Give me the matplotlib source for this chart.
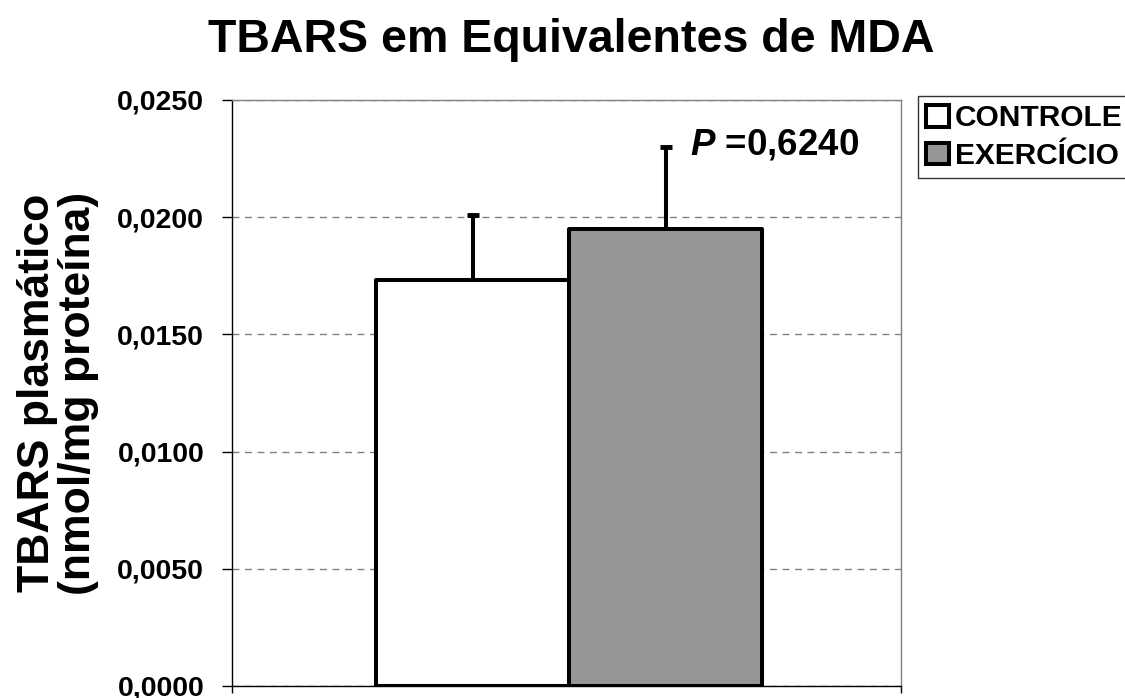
import matplotlib
matplotlib.use("Agg")
import matplotlib.pyplot as plt
from matplotlib.patches import Patch
from matplotlib.ticker import FuncFormatter

# dados
grupos = ["CONTROLE", "EXERCÍCIO"]
medias = [0.0173, 0.0195]
erros = [0.0028, 0.0035]
cores = ["#ffffff", "#969696"]
posicoes = [0.36, 0.648]
largura = 0.289
yticks = [0.0, 0.005, 0.010, 0.015, 0.020, 0.025]

plt.rcParams['font.family'] = ['Liberation Sans', 'DejaVu Sans']
plt.rcParams['font.weight'] = 'bold'
plt.rcParams['mathtext.fontset'] = 'custom'
plt.rcParams['mathtext.it'] = 'Liberation Sans:italic:bold'

fig = plt.figure(figsize=(11.25, 6.98), dpi=100)
ax = fig.add_axes([232 / 1125, 12 / 698, 669 / 1125, 586 / 698])

for x, m, e, c in zip(posicoes, medias, erros, cores):
    ax.bar(x, m, width=largura, color=c, edgecolor='black', linewidth=2.9,
           zorder=3, joinstyle='round')
    eb = ax.errorbar(x, m, yerr=[[0], [e]], fmt='none', ecolor='black',
                     elinewidth=2.9, capsize=4.5, capthick=3.5, zorder=2)
    for cap in eb[1]:
        cap.set_solid_capstyle('round')

ax.set_xlim(0, 1)
ax.set_ylim(0, 0.025)
ax.set_yticks(yticks)
ax.yaxis.set_major_formatter(FuncFormatter(lambda v, p: f"{v:.4f}".replace('.', ',')))
ax.set_xticks([0, 1])
ax.set_xticklabels([])
ax.tick_params(axis='x', direction='out', length=5, width=1)
ax.tick_params(axis='y', direction='out', length=7, width=1, labelsize=20.5, pad=13)

ax.grid(axis='y', linestyle=(0, (5, 4)), color='#808080', linewidth=1, zorder=0)
ax.spines['left'].set_color('black')
ax.spines['bottom'].set_color('black')
ax.spines['top'].set_color('#808080')
ax.spines['right'].set_color('#808080')
for s in ax.spines.values():
    s.set_linewidth(1)

ax.set_ylabel("TBARS plasmático\n(nmol/mg proteína)", fontsize=32,
              fontweight='bold', labelpad=13, linespacing=1.0)

fig.text(0.508, 1 - 40 / 698, "TBARS em Equivalentes de MDA", ha='center',
         va='center', fontsize=33.5, fontweight='bold')

ax.text(0.684, 0.0231, r"$\mathit{P}$ =0,6240", fontsize=26.5, fontweight='bold',
        ha='left', va='center')

handles = [Patch(facecolor=c, edgecolor='black', linewidth=2.9, label=g)
           for g, c in zip(grupos, cores)]
leg = fig.legend(handles=handles, loc='upper left',
                 bbox_to_anchor=(918 / 1125, 1 - 96 / 698),
                 fontsize=21.5, frameon=True, fancybox=False,
                 handlelength=0.75, handleheight=0.75, handletextpad=0.2,
                 borderpad=0.28, labelspacing=0.32, borderaxespad=0)
leg.get_frame().set_edgecolor('black')
leg.get_frame().set_linewidth(1)
for t in leg.get_texts():
    t.set_fontweight('bold')

fig.savefig("out.png", dpi=100)
